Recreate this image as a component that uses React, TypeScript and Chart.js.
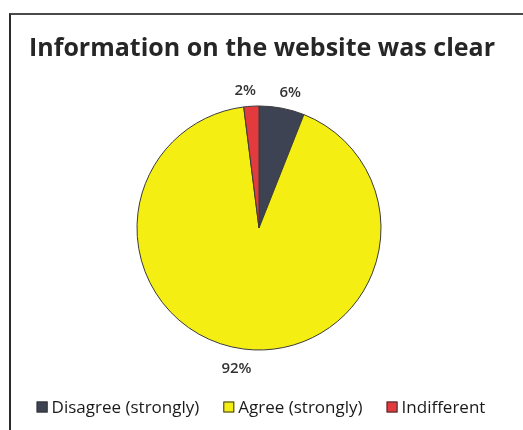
import React, { useEffect, useRef } from "react";
import { Chart, registerables } from "chart.js";

Chart.register(...registerables);

const TITLE = "Information on the website was clear";
const categories = ["Disagree (strongly)", "Agree (strongly)", "Indifferent"];
const values = [6, 92, 2];
const percentLabels = ["6%", "92%", "2%"];
const colors = ["#3d4352", "#f4ee12", "#e33b3d"];

const FONT = "'Open Sans', 'Noto Sans', sans-serif";

const overlayPlugin = {
  id: "overlay",
  afterDraw(chart: any) {
    const ctx = chart.ctx as CanvasRenderingContext2D;
    ctx.save();
    // title
    ctx.fillStyle = "#262626";
    ctx.font = `bold 25px ${FONT}`;
    ctx.textAlign = "left";
    ctx.textBaseline = "alphabetic";
    ctx.fillText(TITLE, 29, 56);

    // percent labels outside the slices
    const meta = chart.getDatasetMeta(0);
    ctx.font = `600 15px ${FONT}`;
    ctx.fillStyle = "#333333";
    ctx.textAlign = "center";
    ctx.textBaseline = "middle";
    meta.data.forEach((arc: any, i: number) => {
      const p = arc.getProps(["x", "y", "startAngle", "endAngle", "outerRadius"], true);
      const mid = (p.startAngle + p.endAngle) / 2;
      const r = p.outerRadius + 18;
      const c = Math.cos(mid);
      const tx = p.x + c * r + Math.sign(c) * 5;
      const ty = p.y + Math.sin(mid) * r + 2;
      ctx.fillText(percentLabels[i], tx, ty);
    });

    // legend
    ctx.font = `17px ${FONT}`;
    ctx.textBaseline = "middle";
    ctx.textAlign = "left";
    const box = 11;
    const gap = 4;
    const itemGap = 24;
    const widths = categories.map((c) => box + gap + ctx.measureText(c).width);
    const total = widths.reduce((a, b) => a + b, 0) + itemGap * (categories.length - 1);
    let x = 261 - total / 2;
    const y = 407;
    categories.forEach((c, i) => {
      ctx.fillStyle = colors[i];
      ctx.fillRect(x, y - box / 2, box, box);
      ctx.strokeStyle = "#333333";
      ctx.lineWidth = 1;
      ctx.strokeRect(x + 0.5, y - box / 2 + 0.5, box - 1, box - 1);
      ctx.fillStyle = "#1a1a1a";
      ctx.fillText(c, x + box + gap, y + 1);
      x += widths[i] + itemGap;
    });
    ctx.restore();
  },
};

export default function App() {
  const ref = useRef<HTMLCanvasElement | null>(null);
  useEffect(() => {
    if (!ref.current) return;
    const chart = new Chart(ref.current, {
      type: "pie",
      data: {
        labels: categories,
        datasets: [
          {
            data: values,
            backgroundColor: colors,
            borderColor: "#3a3a3a",
            borderWidth: 1,
            radius: 122,
          },
        ],
      },
      options: {
        responsive: false,
        animation: false,
        layout: { padding: { top: 60, bottom: 34, left: 20, right: 25 } },
        plugins: {
          legend: { display: false },
          title: { display: false },
          tooltip: { enabled: false },
        },
      },
      plugins: [overlayPlugin],
    });
    return () => chart.destroy();
  }, []);
  return (
    <div
      style={{
        position: "fixed",
        left: 0,
        top: 0,
        width: 523,
        height: 430,
        background: "#ffffff",
        overflow: "hidden",
      }}
    >
      <div
        style={{
          position: "absolute",
          left: 9,
          top: 13,
          width: 530,
          height: 430,
          borderTop: "2px solid #4a4a4a",
          borderLeft: "2px solid #2a2a2a",
        }}
      />
      <canvas ref={ref} width={523} height={430} style={{ position: "absolute", left: 0, top: 0 }} />
    </div>
  );
}
